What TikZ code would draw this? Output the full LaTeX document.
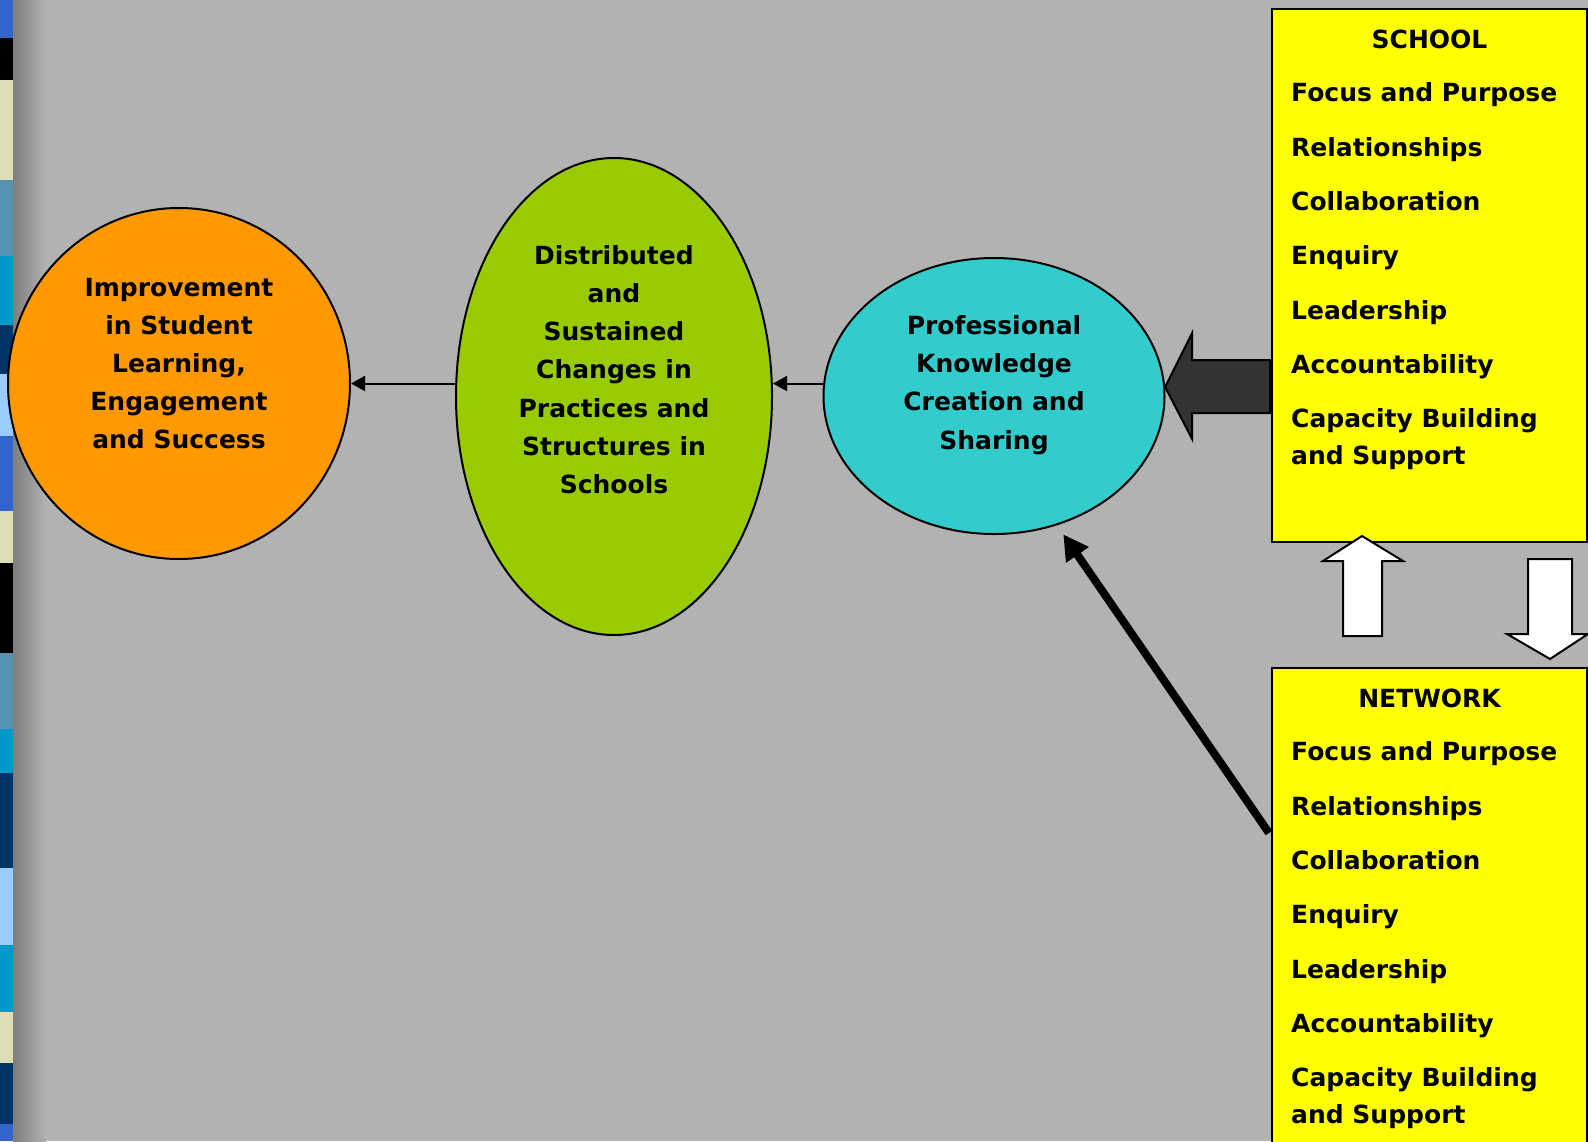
\documentclass[tikz,border=0pt]{standalone}
\usepackage{fontspec}
\setmainfont{DejaVu Sans}
\usepackage{tikz}
\usetikzlibrary{arrows.meta,calc,shapes.geometric}
\definecolor{bggray}{HTML}{B2B2B2}
\definecolor{shadegray}{HTML}{7E7E7E}
\definecolor{orangefill}{HTML}{FF9900}
\definecolor{greenfill}{HTML}{99CC00}
\definecolor{cyanfill}{HTML}{33CCCC}
\definecolor{boxyellow}{HTML}{FFFF00}
\definecolor{darkblock}{HTML}{333333}
\definecolor{stripblue}{HTML}{3366CC}
\definecolor{stripbeige}{HTML}{DDDDB8}
\definecolor{stripsteel}{HTML}{5592B0}
\definecolor{stripcyan}{HTML}{0099CC}
\definecolor{stripnavy}{HTML}{003366}
\definecolor{striplight}{HTML}{99CCFF}
\tikzset{%
  tipA/.tip={Triangle[length=14pt,width=15pt]},
  tipB/.tip={Triangle[length=25pt,width=26pt]},
  blob/.style={ellipse,draw=black,line width=2pt,inner sep=0pt},
  listbox/.style={rectangle,draw=black,line width=2pt,fill=boxyellow,
    minimum width=315pt,anchor=north west,inner sep=0pt},
  bigtext/.style={font=\fontsize{25}{38.2}\selectfont\bfseries,align=center,inner sep=0pt},
  itemtext/.style={font=\fontsize{25}{30}\selectfont\bfseries,inner sep=0pt,anchor=base west},
  thinarrow/.style={line width=2pt,-tipA},
  thickarrow/.style={line width=8pt,-tipB},
  blockarrow/.style={draw=black,line width=2pt,line join=miter}
}
\begin{document}
\begin{tikzpicture}[x=1pt,y=-1pt]
\useasboundingbox (0,0) rectangle (1588,1141);
\clip (0,0) rectangle (1588,1141);
\fill[bggray] (0,0) rectangle (1588,1141);
% strip on the left edge
\foreach \ya/\yb/\c in {0/38/stripblue,38/80/black,80/180/stripbeige,180/256/stripsteel,
  256/325/stripcyan,325/374/stripnavy,374/436/striplight,436/511/stripblue,511/563/stripbeige,
  563/653/black,653/729/stripsteel,729/773/stripcyan,773/868/stripnavy,868/945/striplight,
  945/1012/stripcyan,1012/1063/stripbeige,1063/1124/stripnavy,1124/1141/stripblue}
  \fill[\c] (0,\ya) rectangle (13,\yb);
\shade[left color=shadegray,right color=bggray] (13,0) rectangle (46,1141);
% the three stages
\node[blob,fill=orangefill,minimum width=342pt,minimum height=351pt] (improve) at (179,383.5) {};
\node[blob,fill=greenfill,minimum width=316pt,minimum height=477pt] (changes) at (614,396.5) {};
\node[blob,fill=cyanfill,minimum width=341pt,minimum height=276pt] (knowledge) at (994,396) {};
\node[bigtext] (improve-txt) at ($(improve.center)+(0,-20)$) {Improvement\\in Student\\Learning,\\Engagement\\and Success};
\node[bigtext] (changes-txt) at ($(changes.center)+(0,-27)$) {Distributed\\and\\Sustained\\Changes in\\Practices and\\Structures in\\Schools};
\node[bigtext] (knowledge-txt) at ($(knowledge.center)+(0,-11)$) {Professional\\Knowledge\\Creation and\\Sharing};
\draw[thinarrow] (changes.west |- improve.east) -- (improve.east);
\draw[thinarrow] (knowledge.west |- improve.east) -- (changes.east |- improve.east);
% school and network boxes
\node[listbox,minimum height=533pt] (school) at (1271,8) {};
\node[listbox,minimum height=490pt] (network) at (1271,667) {};
\foreach \grp/\ttl in {school/SCHOOL,network/NETWORK}{
  \node[bigtext,anchor=base] (\grp-title) at ($(\grp.north)+(0,40)$) {\ttl};
  \foreach \lbl [count=\i] in {Focus and Purpose,Relationships,Collaboration,Enquiry,Leadership,Accountability}
    \node[itemtext] (\grp-\i) at ($(\grp.north west)+(20,39.3+54.4*\i)$) {\lbl};
  \node[itemtext] (\grp-7) at ($(\grp.north west)+(20,419)$) {Capacity Building};
  \node[itemtext] (\grp-8) at ($(\grp.north west)+(20,456)$) {and Support};
}
% block arrows
\draw[blockarrow,fill=darkblock] (knowledge.3) -- ++(27,-54) -- ++(0,27) -- ++(78,0)
  -- ++(0,53) -- ++(-78,0) -- ++(0,26) -- cycle;
\coordinate (uptip) at ($(school.south west)+(91,-7)$);
\coordinate (downtip) at ($(network.north west)+(279,-8)$);
\draw[blockarrow,fill=white] (uptip) -- ++(41,25) -- ++(-21,0) -- ++(0,75) -- ++(-39,0)
  -- ++(0,-75) -- ++(-20,0) -- cycle;
\draw[blockarrow,fill=white] (downtip) -- ++(38,-25) -- ++(-16,0) -- ++(0,-75) -- ++(-44,0)
  -- ++(0,75) -- ++(-21,0) -- cycle;
\coordinate (netout) at ($(network.north west)+(-2,166)$);
\draw[thickarrow,shorten >=11pt] (netout) -- (knowledge.-64);
\end{tikzpicture}
\end{document}
